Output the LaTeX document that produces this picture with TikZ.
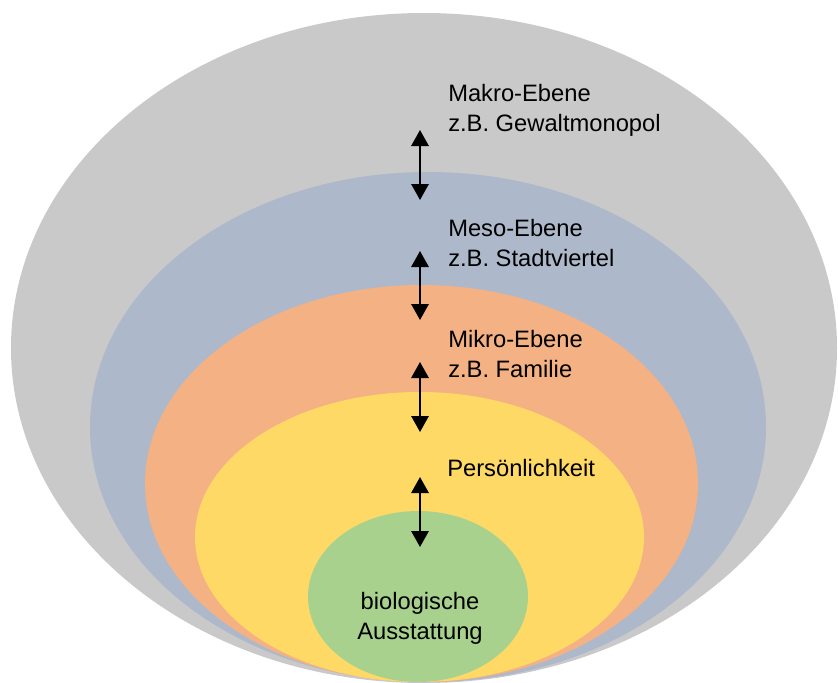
\documentclass[tikz,border=0pt]{standalone}
\usepackage{fontspec}
\setmainfont{Liberation Sans}
\usepackage{tikz}
\usetikzlibrary{arrows.meta,positioning,shapes.geometric}

\definecolor{makrogray}{HTML}{C9C9C9}
\definecolor{mesoblue}{HTML}{ADB9CA}
\definecolor{mikroorange}{HTML}{F4B183}
\definecolor{persyellow}{HTML}{FED966}
\definecolor{biogreen}{HTML}{A9D18E}

\begin{document}
\begin{tikzpicture}[x=0.75pt,y=-0.75pt,
  level/.style={ellipse,inner sep=0pt,draw=none},
  lbl/.style={inner sep=0pt,align=left,anchor=base west,font=\fontsize{17.8}{22.5}\selectfont},
  updown/.style={line width=1.5pt,{Triangle[width=13pt,length=12pt]}-{Triangle[width=13pt,length=12pt]}}]
\useasboundingbox (0,0) rectangle (838,682);

% Level 0 - Makro
\node[level,fill=makrogray,minimum width=619.5pt,minimum height=502.5pt] (makro) at (424,348) {};
% Level 1 - Meso
\node[level,fill=mesoblue,minimum width=507pt,minimum height=382.5pt] (meso) at (428,427) {};
% Level 2 - Mikro
\node[level,fill=mikroorange,minimum width=414.75pt,minimum height=297.75pt] (mikro) at (421.5,483.5) {};
% Level 3 - Persoenlichkeit
\node[level,fill=persyellow,minimum width=336.75pt,minimum height=217.5pt] (pers) at (419.5,537) {};
% Level 4 - Biologie
\node[level,fill=biogreen,minimum width=165pt,minimum height=128.25pt] (bio) at (418,596.5) {};

% Labels (base = last line)
\node[lbl] (makrotxt) at (448,131) {Makro-Ebene\\z.B. Gewaltmonopol};
\node[lbl] (mesotxt) at (448,266) {Meso-Ebene\\z.B. Stadtviertel};
\node[lbl] (mikrotxt) at (448,377) {Mikro-Ebene\\z.B. Familie};
\node[lbl] (perstxt) at (447,476) {Persönlichkeit};
\node[lbl,align=center,anchor=base] (biotxt) at (420,639) {biologische\\Ausstattung};

% Arrows between levels
\coordinate (a1t) at (420,130);
\coordinate (a1b) at (420,200);
\coordinate (a2t) at (420,251);
\coordinate (a2b) at (420,320);
\coordinate (a3t) at (420,362);
\coordinate (a3b) at (420,432);
\coordinate (a4t) at (420,477);
\coordinate (a4b) at (420,547);
\draw[updown] (a1t) -- (a1b);
\draw[updown] (a2t) -- (a2b);
\draw[updown] (a3t) -- (a3b);
\draw[updown] (a4t) -- (a4b);
\end{tikzpicture}
\end{document}
